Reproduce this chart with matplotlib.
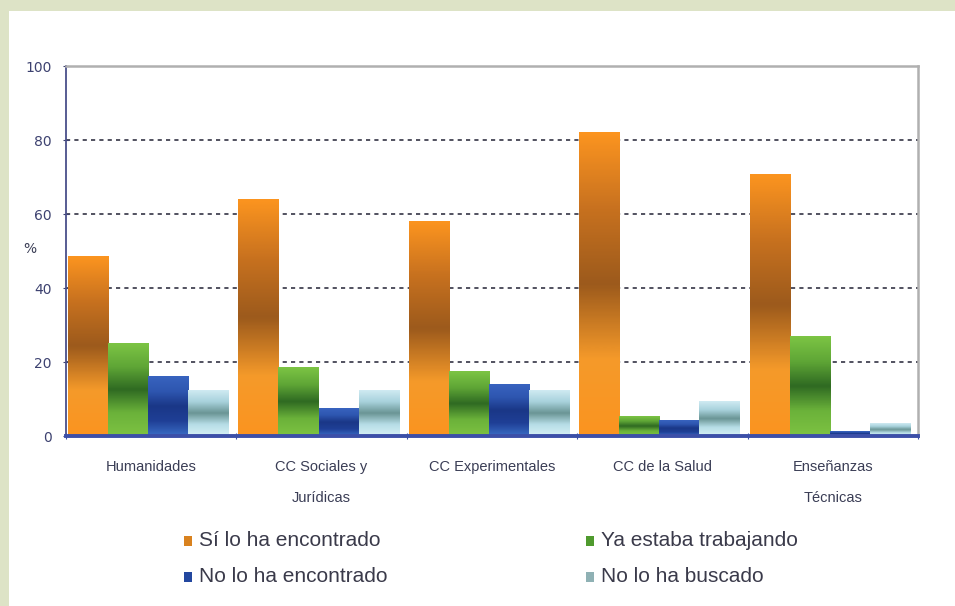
import matplotlib.pyplot as plt
import numpy as np
from matplotlib.colors import LinearSegmentedColormap
from matplotlib.patches import Rectangle

categories = ['Humanidades', 'CC Sociales y\nJurídicas', 'CC Experimentales',
              'CC de la Salud', 'Enseñanzas\nTécnicas']
series = ['Sí lo ha encontrado', 'Ya estaba trabajando',
          'No lo ha encontrado', 'No lo ha buscado']
si_encontrado = [48.4, 63.8, 58.1, 81.9, 70.8]
ya_trabajando = [24.9, 18.4, 17.3, 5.4, 27.0]
no_encontrado = [16.2, 7.3, 13.8, 4.3, 1.1]
no_buscado = [12.4, 12.2, 12.2, 9.2, 3.5]
values = [si_encontrado, ya_trabajando, no_encontrado, no_buscado]

# gradient per series: bottom -> dark band -> top
grads = [
    ['#fb9420', '#f59a2a', '#9c5a1c', '#c7711f', '#fb941f'],
    ['#7dc242', '#6bb23a', '#2f6a22', '#5fa636', '#7cc444'],
    ['#3a6cc4', '#1f3f96', '#1a3787', '#2e56b0', '#3863bf'],
    ['#d6f0f6', '#b6dde6', '#6a9595', '#a8d2dc', '#cfeaf2'],
]
legend_cols = ['#d9821f', '#4f9a2e', '#23479f', '#8fb1b4']

fig = plt.figure(figsize=(9.55, 6.06), dpi=100)
fig.patch.set_facecolor('#dde3c6')
fig.patches.append(Rectangle((9 / 955, 0), 1, 1 - 11 / 606, transform=fig.transFigure,
                             facecolor='white', edgecolor='none', zorder=-5))

ax = fig.add_axes([66 / 955, 1 - 436 / 606, (918 - 66) / 955, (436 - 66) / 606])
ax.set_facecolor('white')

bw = 0.235
gap = 0.012
g = np.linspace(0, 1, 100).reshape(-1, 1)
for s, vals in enumerate(values):
    cmap = LinearSegmentedColormap.from_list(f'g{s}', grads[s])
    for i, v in enumerate(vals):
        x0 = i + gap + s * bw
        ax.imshow(g, extent=[x0, x0 + bw, 0, v], aspect='auto', cmap=cmap,
                  origin='lower', zorder=3, interpolation='bilinear')
ax.set_xlim(0, len(categories))
ax.set_ylim(0, 100)

for y in [20, 40, 60, 80]:
    ax.axhline(y, color='#333344', lw=1.2, ls=(0, (2.5, 2.5)), zorder=1)

ax.spines['top'].set_color('#b0b0b0')
ax.spines['top'].set_linewidth(1.8)
ax.spines['right'].set_color('#b0b0b0')
ax.spines['right'].set_linewidth(1.8)
ax.spines['left'].set_color('#4a4f8a')
ax.spines['left'].set_linewidth(1.3)
ax.spines['bottom'].set_color('#3c4fa8')
ax.spines['bottom'].set_linewidth(2.8)
ax.spines['bottom'].set_zorder(5)

ax.set_yticks([0, 20, 40, 60, 80, 100])
ax.tick_params(axis='y', length=5, direction='inout', colors='#3d4270',
               labelsize=10, pad=8)
ax.set_xticks(range(len(categories) + 1))
ax.set_xticklabels([])
ax.tick_params(axis='x', length=5, direction='inout', color='#3c4fa8')
for i, c in enumerate(categories):
    ax.text(i + 0.5, -6.5, c, ha='center', va='top', fontsize=10.5,
            color='#3a3d55', linespacing=2.5, family='Liberation Sans')
ax.text(-0.21, 50.5, '%', ha='center', va='center', fontsize=10, color='#3a3d55')

# legend
leg_pos = [(188, 541), (590, 541), (188, 577), (590, 577)]
for (px, py), lab, col in zip(leg_pos, series, legend_cols):
    fig.patches.append(Rectangle(((px - 4) / 955, 1 - (py + 5) / 606), 8 / 955, 10 / 606,
                                 transform=fig.transFigure, facecolor=col,
                                 edgecolor='none'))
    fig.text((px + 11) / 955, 1 - py / 606, lab, ha='left', va='center',
             fontsize=15, color='#3a3a4a', family='Liberation Sans')

fig.savefig('out.png', dpi=100)
